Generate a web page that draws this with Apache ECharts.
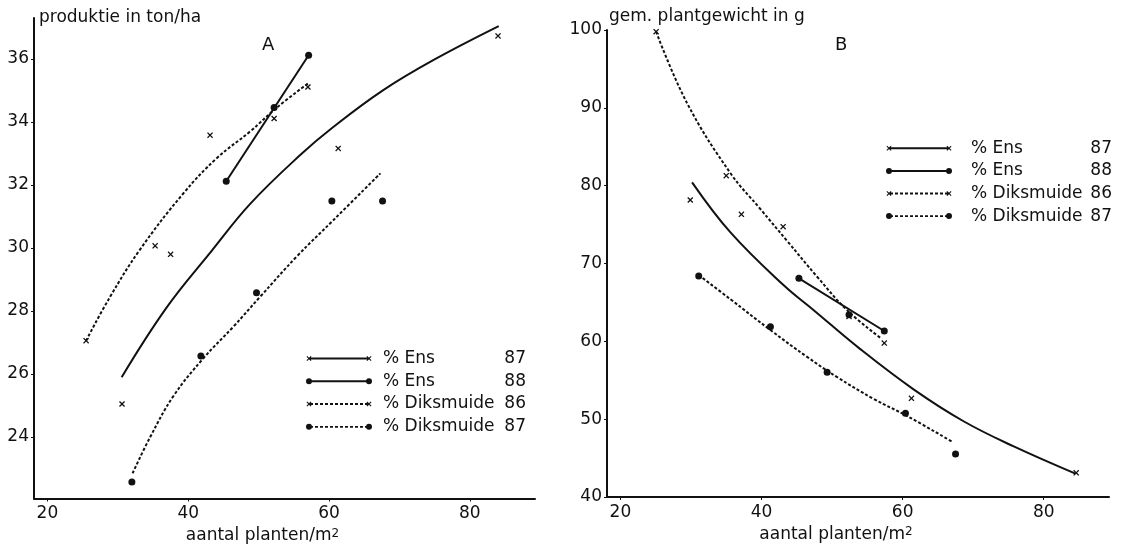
<!DOCTYPE html>
<html>
<head>
<meta charset="utf-8">
<script src="https://cdn.jsdelivr.net/npm/echarts@6/dist/echarts.min.js"></script>
<style>
  html, body { margin: 0; padding: 0; background: #fff; }
  #chart { width: 1125px; height: 552px; }
</style>
</head>
<body>
<div id="chart"></div>
<script>
// ---- panel A: produktie in ton/ha ----
var aEns87X = [30.6, 37.5, 61.3, 84.0];
var aEns87Y = [25.05, 29.8, 33.16, 36.73];
var aEns87CurveX = [30.55, 36.9, 43.3, 48.8, 55.9, 60.6, 67.7, 74.8, 84.1];
var aEns87CurveY = [25.9, 28.1, 29.9, 31.4, 32.95, 33.84, 35.01, 35.96, 37.04];

var aEns88X = [45.4, 52.2, 57.1];
var aEns88Y = [32.12, 34.46, 36.12];
var aEns88LineX = [45.4, 57.1];
var aEns88LineY = [32.12, 36.12];

var aDik86X = [25.5, 35.3, 43.1, 52.2, 57.0];
var aDik86Y = [27.06, 30.07, 33.58, 34.11, 35.11];
var aDik86CurveX = [25.5, 28.9, 33.15, 39.3, 44.05, 48.8, 52.6, 57.0];
var aDik86CurveY = [27.06, 28.45, 29.95, 31.73, 32.85, 33.7, 34.46, 35.22];

var aDik87X = [32.0, 41.8, 49.7, 60.4, 67.6];
var aDik87Y = [22.57, 26.57, 28.58, 31.49, 31.49];
var aDik87CurveX = [32.1, 34.6, 37.9, 42.15, 46.4, 50.2, 55.5, 60.6, 67.3];
var aDik87CurveY = [22.85, 24.0, 25.3, 26.5, 27.5, 28.45, 29.75, 30.88, 32.37];

// ---- panel B: gem. plantgewicht in g ----
var bEns87X = [29.9, 37.15, 61.25, 84.6];
var bEns87Y = [78.16, 76.32, 52.68, 43.1];
var bEns87CurveX = [30.16, 35.6, 43.15, 47.4, 54.0, 61.6, 68.7, 75.75, 84.5];
var bEns87CurveY = [80.43, 74.0, 67.2, 64.0, 59.0, 53.8, 49.7, 46.5, 43.0];

var bEns88X = [45.3, 52.4, 57.4];
var bEns88Y = [68.1, 63.4, 61.33];
var bEns88LineX = [45.3, 57.4];
var bEns88LineY = [68.1, 61.33];

var bDik86X = [25.06, 35.0, 43.06, 52.4, 57.4];
var bDik86Y = [99.78, 81.28, 74.73, 63.2, 59.77];
var bDik86CurveX = [25.06, 29.45, 35.6, 39.84, 43.63, 47.88, 52.13, 56.85];
var bDik86CurveY = [99.78, 90.6, 81.6, 77.0, 72.9, 68.3, 64.0, 60.45];

var bDik87X = [31.1, 41.26, 49.3, 60.4, 67.5];
var bDik87Y = [68.39, 61.88, 56.03, 50.75, 45.52];
var bDik87CurveX = [31.1, 35.6, 41.26, 46.46, 50.72, 55.9, 60.64, 67.0];
var bDik87CurveY = [68.52, 65.4, 61.45, 58.0, 55.4, 52.6, 50.4, 47.11];

var names = ['% Ens 87', '% Ens 88', '% Diksmuide 86', '% Diksmuide 87'];
var xTicks = [20, 40, 60, 80];
var aYTicks = [24, 26, 28, 30, 32, 34, 36];
var bYTicks = [40, 50, 60, 70, 80, 90, 100];

var FONT = 'DejaVu Sans';
var INK = '#111';
var crossPath = 'path://M0,1.5L1.5,0L5,3.5L8.5,0L10,1.5L6.5,5L10,8.5L8.5,10L5,6.5L1.5,10L0,8.5L3.5,5Z';

function zip(xs, ys) {
  return xs.map(function (x, i) { return [x, ys[i]]; });
}

// legend sample: line (solid/dashed) with a marker at both ends
function legendIcon(mark, dashed) {
  var d = 'M0,0L0.1,0L0,0.1Z M66,8L65.9,8L66,7.9Z';
  if (dashed) {
    for (var x = 4; x < 62; x += 5) {
      d += ' M' + x + ',3.1H' + Math.min(x + 3, 62) + 'V4.9H' + x + 'Z';
    }
  } else {
    d += ' M3,3H63V5H3Z';
  }
  [3, 63].forEach(function (c) {
    if (mark === 'dot') {
      d += ' M' + (c - 3) + ',4A3,3 0 1,1 ' + (c + 3) + ',4A3,3 0 1,1 ' + (c - 3) + ',4Z';
    } else {
      var p = [[0,1.5],[1.5,0],[5,3.5],[8.5,0],[10,1.5],[6.5,5],[10,8.5],[8.5,10],[5,6.5],[1.5,10],[0,8.5],[3.5,5]];
      d += ' M' + p.map(function (q) {
        return (c - 2.5 + q[0] * 0.5).toFixed(2) + ',' + (1.5 + q[1] * 0.5).toFixed(2);
      }).join('L') + 'Z';
    }
  });
  return 'path://' + d;
}

var icons = [legendIcon('x', false), legendIcon('dot', false), legendIcon('x', true), legendIcon('dot', true)];

function curve(name, data, xi, dashed) {
  return {
    name: name, type: 'line', xAxisIndex: xi, yAxisIndex: xi,
    data: data, smooth: 0.4, symbol: 'none',
    color: INK,
    lineStyle: { color: INK, width: dashed ? 2 : 2, type: dashed ? [3, 2] : 'solid' },
    z: 2
  };
}

function points(name, data, xi, mark) {
  return {
    name: name, type: 'scatter', xAxisIndex: xi, yAxisIndex: xi,
    data: data, symbol: mark === 'dot' ? 'circle' : crossPath,
    symbolSize: mark === 'dot' ? 7 : 6,
    color: INK, itemStyle: { color: INK, opacity: 1 }, z: 3
  };
}

function legendFor(left, top, rowH, nameW, gapPad) {
  return {
    orient: 'vertical', left: left, top: top, padding: 0,
    itemWidth: 66, itemHeight: 8, itemGap: 0, selectedMode: false,
    data: names.map(function (n, i) { return { name: n, icon: icons[i] }; }),
    formatter: function (n) {
      var k = n.lastIndexOf(' ');
      return '{n|' + n.slice(0, k) + '}{v|' + n.slice(k + 1) + '}';
    },
    textStyle: {
      fontFamily: FONT, fontSize: 17, color: INK, lineHeight: rowH,
      rich: {
        n: { fontFamily: FONT, fontSize: 17, color: INK, width: nameW, padding: [0, 0, 0, gapPad], lineHeight: rowH },
        v: { fontFamily: FONT, fontSize: 17, color: INK, width: 22, align: 'right', lineHeight: rowH }
      }
    }
  };
}

function xAxisFor(gi) {
  return {
    type: 'value', gridIndex: gi, min: 18.1, max: 89.25,
    axisLine: { show: true, lineStyle: { color: INK, width: 2 } },
    axisTick: { show: true, length: 3, customValues: xTicks, lineStyle: { color: INK } },
    axisLabel: { customValues: xTicks, margin: 7, fontFamily: FONT, fontSize: 17, color: INK },
    splitLine: { show: false },
    name: '{t|aantal planten/m}{s|2}', nameLocation: 'middle', nameGap: 24,
    nameTextStyle: {
      padding: [0, 44, 0, 0],
      rich: {
        t: { fontFamily: FONT, fontSize: 17, color: INK },
        s: { fontFamily: FONT, fontSize: 12, color: INK, verticalAlign: 'top' }
      }
    }
  };
}

function yAxisFor(gi, min, max, ticks) {
  return {
    type: 'value', gridIndex: gi, min: min, max: max,
    axisLine: { show: true, lineStyle: { color: INK, width: 2 } },
    axisTick: { show: true, length: 3, customValues: ticks, lineStyle: { color: INK } },
    axisLabel: { customValues: ticks, margin: 5, fontFamily: FONT, fontSize: 17, color: INK },
    splitLine: { show: false }
  };
}

var chart = echarts.init(document.getElementById('chart'), null, { renderer: 'canvas' });
var titleStyle = { fontFamily: FONT, fontSize: 17, fontWeight: 'normal', color: INK };

chart.setOption({
  backgroundColor: '#fff',
  animation: false,
  title: [
    { text: 'produktie in ton/ha', left: 39, top: 9, padding: 0, textStyle: titleStyle },
    { text: 'gem. plantgewicht in g', left: 609, top: 8, padding: 0, textStyle: titleStyle },
    { text: 'A', left: 262, top: 36, padding: 0, textStyle: { fontFamily: FONT, fontSize: 18, fontWeight: 'normal', color: INK } },
    { text: 'B', left: 835, top: 36, padding: 0, textStyle: { fontFamily: FONT, fontSize: 18, fontWeight: 'normal', color: INK } }
  ],
  grid: [
    { left: 34, top: 18, width: 501, height: 480.5, containLabel: false, outerBoundsMode: 'none' },
    { left: 607, top: 30, width: 502, height: 467, containLabel: false, outerBoundsMode: 'none' }
  ],
  legend: [
    legendFor(306, 347, 22.8, 121, 6),
    legendFor(886, 137, 22.6, 119, 14)
  ],
  xAxis: [xAxisFor(0), xAxisFor(1)],
  yAxis: [yAxisFor(0, 22.05, 37.3, aYTicks), yAxisFor(1, 40, 100, bYTicks)],
  series: [
    curve(names[0], zip(aEns87CurveX, aEns87CurveY), 0, false),
    points(names[0], zip(aEns87X, aEns87Y), 0, 'x'),
    curve(names[1], zip(aEns88LineX, aEns88LineY), 0, false),
    points(names[1], zip(aEns88X, aEns88Y), 0, 'dot'),
    curve(names[2], zip(aDik86CurveX, aDik86CurveY), 0, true),
    points(names[2], zip(aDik86X, aDik86Y), 0, 'x'),
    curve(names[3], zip(aDik87CurveX, aDik87CurveY), 0, true),
    points(names[3], zip(aDik87X, aDik87Y), 0, 'dot'),

    curve(names[0], zip(bEns87CurveX, bEns87CurveY), 1, false),
    points(names[0], zip(bEns87X, bEns87Y), 1, 'x'),
    curve(names[1], zip(bEns88LineX, bEns88LineY), 1, false),
    points(names[1], zip(bEns88X, bEns88Y), 1, 'dot'),
    curve(names[2], zip(bDik86CurveX, bDik86CurveY), 1, true),
    points(names[2], zip(bDik86X, bDik86Y), 1, 'x'),
    curve(names[3], zip(bDik87CurveX, bDik87CurveY), 1, true),
    points(names[3], zip(bDik87X, bDik87Y), 1, 'dot')
  ]
});
</script>
</body>
</html>
